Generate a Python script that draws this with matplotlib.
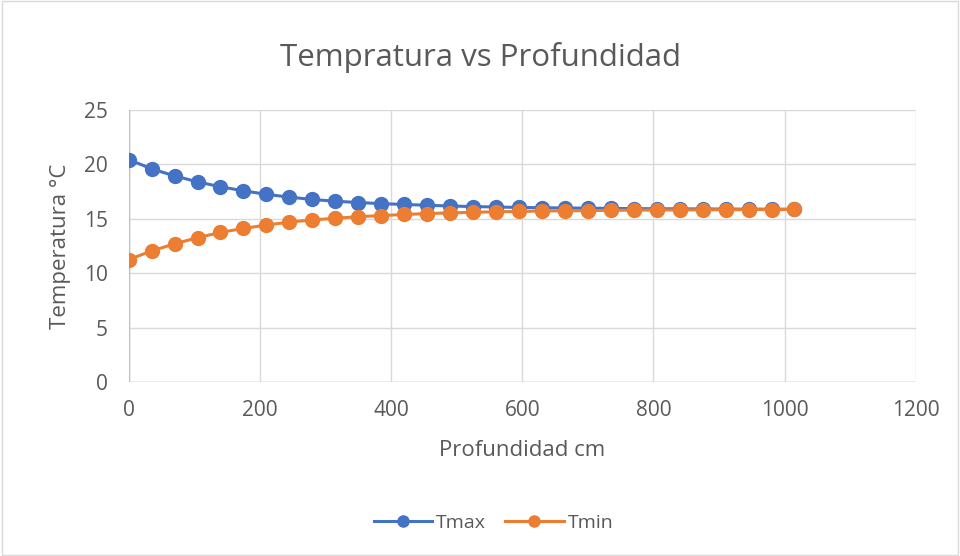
import matplotlib.pyplot as plt
from matplotlib.patches import Rectangle

plt.rcParams['font.family'] = ['Open Sans', 'DejaVu Sans']

# profundidad (cm)
depth = [0, 35, 70, 105, 140, 175, 210, 245, 280, 315, 350, 385, 420, 455, 490,
         525, 560, 595, 630, 665, 700, 735, 770, 805, 840, 875, 910, 945, 980, 1015]
# temperaturas
tmax = [20.45, 19.6, 18.95, 18.4, 17.95, 17.58, 17.25, 17.0, 16.78, 16.62, 16.5, 16.4,
        16.32, 16.25, 16.18, 16.13, 16.09, 16.05, 16.02, 16.0, 15.98, 15.96, 15.94,
        15.93, 15.92, 15.91, 15.9, 15.89, 15.89, 15.88]
tmin = [11.25, 12.05, 12.7, 13.27, 13.75, 14.12, 14.43, 14.7, 14.9, 15.05, 15.2, 15.3,
        15.4, 15.48, 15.55, 15.6, 15.65, 15.68, 15.72, 15.74, 15.76, 15.78, 15.8,
        15.81, 15.82, 15.83, 15.84, 15.85, 15.85, 15.86]

txt = '#595959'
grid = '#d9d9d9'

fig = plt.figure(figsize=(9.6, 5.56), dpi=100)
fig.patches.append(Rectangle((0.002, 0.002), 0.996, 0.996, transform=fig.transFigure,
                             fill=False, edgecolor='#d9d9d9', linewidth=1))
ax = fig.add_axes([0.134, 0.313, 0.820, 0.489])

ax.plot(depth, tmax, color='#4472c4', linewidth=2.2, marker='o', markersize=10, label='Tmax')
ax.plot(depth, tmin, color='#ed7d31', linewidth=2.2, marker='o', markersize=10, label='Tmin')

ax.set_xlim(0, 1200)
ax.set_ylim(0, 25)
ax.set_xticks(range(0, 1201, 200))
ax.set_yticks(range(0, 26, 5))
ax.grid(True, color=grid, linewidth=1)
ax.set_axisbelow(True)
for s in ax.spines.values():
    s.set_visible(False)
ax.axhline(0, color='#bfbfbf', linewidth=1, zorder=1)
ax.axvline(0, color='#bfbfbf', linewidth=1, zorder=1)
ax.tick_params(length=0, colors=txt, labelsize=15)
ax.tick_params(axis='y', pad=15)
ax.tick_params(axis='x', pad=13)
for lab in ax.get_xticklabels() + ax.get_yticklabels():
    lab.set_clip_on(False)

ax.set_xlabel('Profundidad cm', color=txt, fontsize=16, labelpad=14)
ax.set_ylabel('Temperatura °C', color=txt, fontsize=16, labelpad=9)
fig.text(0.5, 0.897, 'Tempratura vs Profundidad', ha='center', va='center',
         color=txt, fontsize=22.5)

fig.legend(loc='center', bbox_to_anchor=(0.514, 0.06), ncol=2, frameon=False,
           fontsize=14, labelcolor=txt, handlelength=3.0, columnspacing=1.0,
           handletextpad=0.2, markerscale=0.8)

fig.savefig('out.png', dpi=100)
